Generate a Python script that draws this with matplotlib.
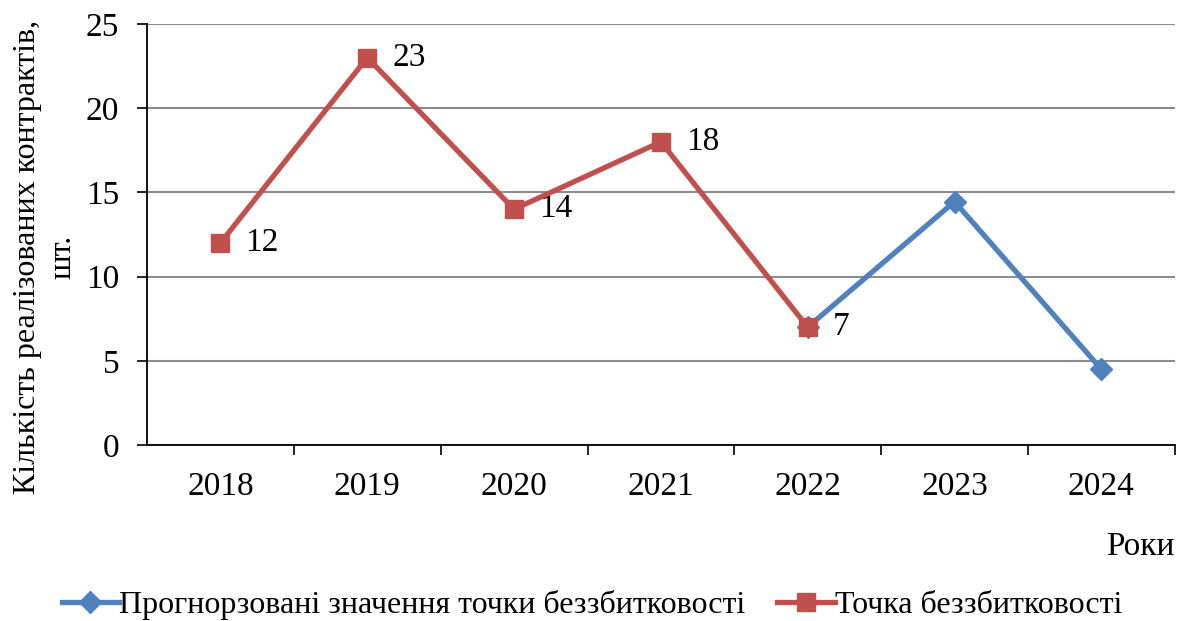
import matplotlib.pyplot as plt

plt.rcParams['font.family'] = ['Liberation Serif', 'DejaVu Serif']

# Data
years = ['2018', '2019', '2020', '2021', '2022', '2023', '2024']
actual_years = ['2018', '2019', '2020', '2021', '2022']
actual_values = [12, 23, 14, 18, 7]
forecast_years = ['2022', '2023', '2024']
forecast_values = [7, 14.45, 4.5]

blue = '#4F81BD'
red = '#C0504D'
fs = 24

fig = plt.figure(figsize=(11.84, 6.21), dpi=100)
ax = fig.add_axes([0.1242, 0.2834, 0.868, 0.678])

xa = [years.index(y) for y in actual_years]
xf = [years.index(y) for y in forecast_years]

ax.plot(xf, forecast_values, color=blue, lw=3.8, marker='D', markersize=11,
        label='Прогнорзовані значення точки беззбитковості', zorder=3)
ax.plot(xa, actual_values, color=red, lw=3.8, marker='s', markersize=13.5,
        label='Точка беззбитковості', zorder=4)

# Data labels for the actual series
for x, v in zip(xa, actual_values):
    ax.annotate(str(v), (x, v), xytext=(18, 0), textcoords='offset points',
                va='center', ha='left', fontsize=fs)

ax.set_xlim(-0.5, len(years) - 0.5)
ax.set_ylim(0, 25)
ax.set_yticks([0, 5, 10, 15, 20, 25])
ax.set_xticks(range(len(years)))
ax.set_xticklabels(years)
ax.set_xticks([i + 0.5 for i in range(len(years))], minor=True)

ax.tick_params(axis='x', which='major', length=0, pad=19, labelsize=fs)
ax.tick_params(axis='x', which='minor', length=7, width=1.2, direction='out')
ax.tick_params(axis='y', length=7, width=1.2, direction='out', pad=13, labelsize=fs)

ax.grid(axis='y', color='#8C8C8C', lw=1.5)
ax.set_axisbelow(True)
for s in ['top', 'right']:
    ax.spines[s].set_visible(False)
for s in ['left', 'bottom']:
    ax.spines[s].set_linewidth(1.3)
    ax.spines[s].set_zorder(5)

ax.set_ylabel('Кількість реалізованих контрактів,\nшт.', fontsize=23,
              linespacing=1.3)
ax.yaxis.set_label_coords(-0.068, 0.447)

fig.text(0.992, 0.12, 'Роки', ha='right', va='center', fontsize=fs)

fig.legend(loc='center', bbox_to_anchor=(0.5, 0.025), ncol=2, frameon=False,
           fontsize=23, handlelength=1.8, handletextpad=0.0, columnspacing=1.0,
           borderpad=0)

fig.savefig('out.png', dpi=100)
